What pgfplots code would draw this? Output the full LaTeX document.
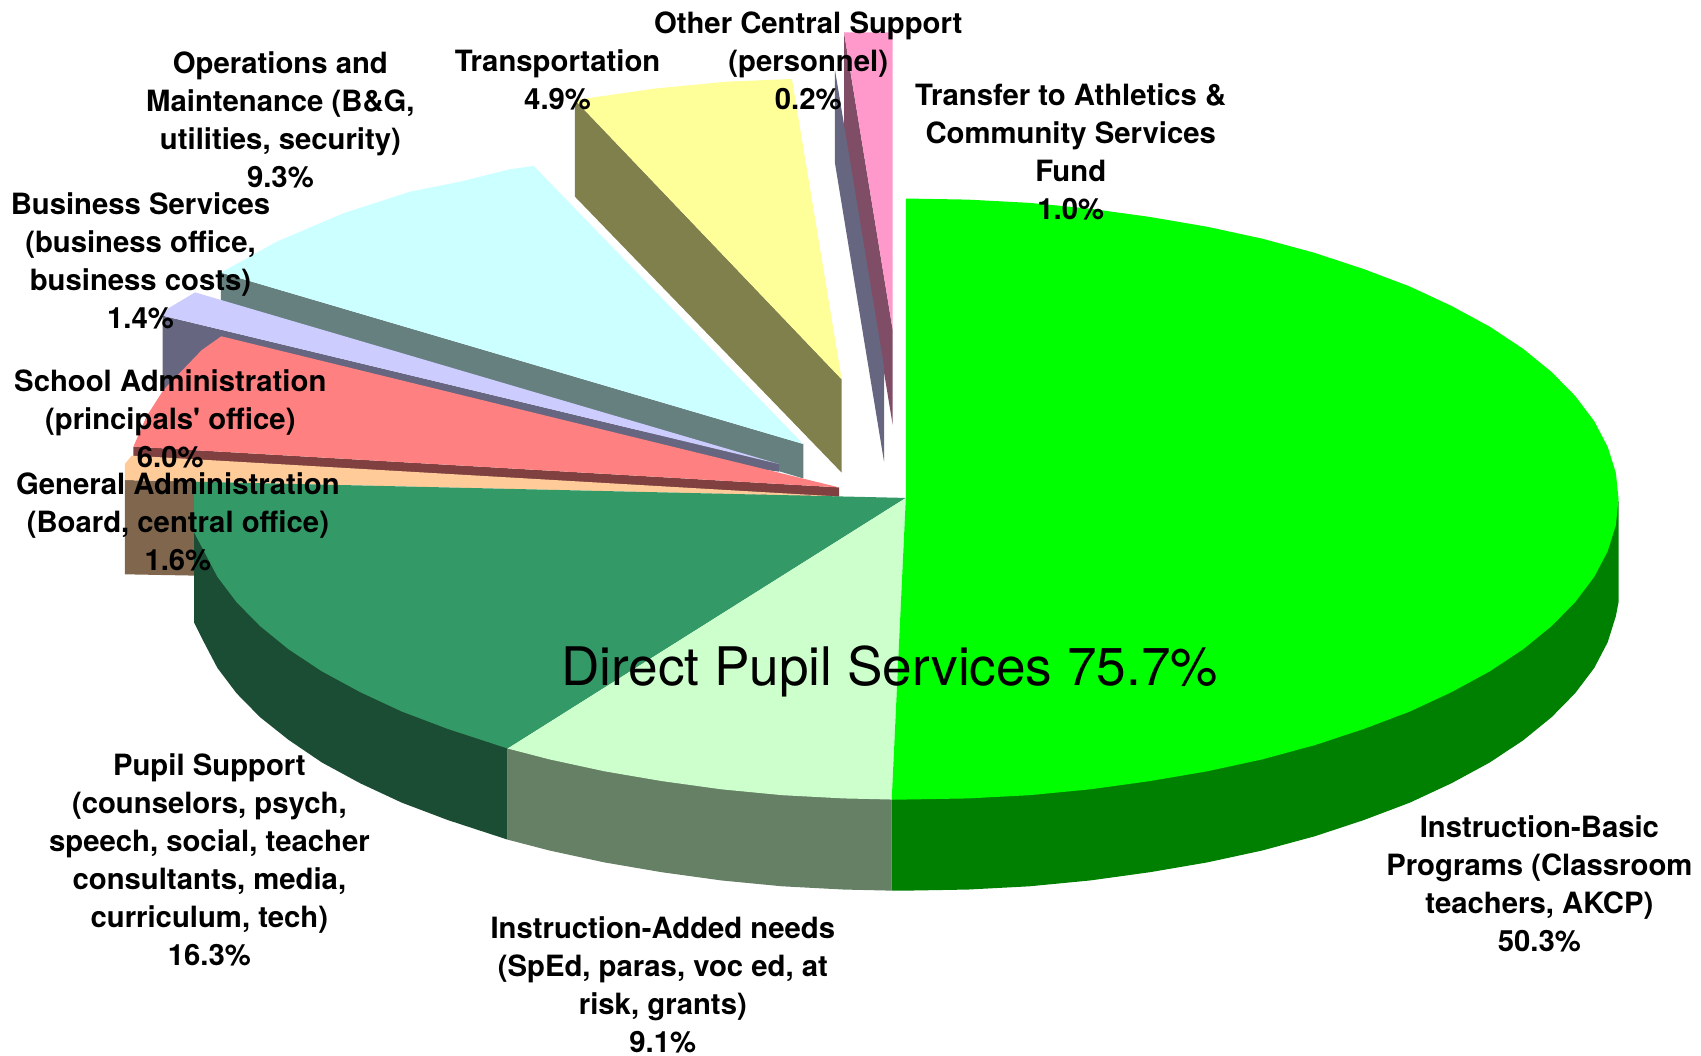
\documentclass[border=0pt]{standalone}
\usepackage{pgfplots}
\pgfplotsset{compat=1.18}
\usepackage{fontspec}
\newfontfamily\hv{TeX Gyre Heros}
\definecolor{gT}{HTML}{00FF00}\definecolor{gW}{HTML}{008000}
\definecolor{lT}{HTML}{CCFFCC}\definecolor{lW}{HTML}{668066}
\definecolor{sT}{HTML}{339966}\definecolor{sW}{HTML}{1A4D33}
\definecolor{oT}{HTML}{FFCC99}\definecolor{oW}{HTML}{80664D}
\definecolor{rT}{HTML}{FF8080}\definecolor{rW}{HTML}{804040}
\definecolor{pT}{HTML}{CCCCFF}\definecolor{pW}{HTML}{666680}
\definecolor{cT}{HTML}{CCFFFF}\definecolor{cW}{HTML}{668080}
\definecolor{yT}{HTML}{FFFF99}\definecolor{yW}{HTML}{80804D}
\definecolor{kT}{HTML}{FF99CC}\definecolor{kW}{HTML}{804D66}
\tikzset{lab/.style={align=center,font=\hv\fontsize{27}{35}\selectfont\bfseries,text=black,inner sep=0pt}}
\begin{document}
\begin{tikzpicture}
\begin{axis}[name=ax,scale only axis,width=1568pt,height=973pt,xmin=0,xmax=1568,ymin=0,ymax=973,y dir=reverse,
  hide axis,clip=false,no markers]
% Transfer to Athletics
\addplot[fill=kW,draw=none] coordinates {(778,29.8)(822.9,304.2)(822.9,391.8)(778,120)};
\addplot[fill=kT,draw=none] coordinates {(778,29.8)(822.9,29.8)(822.9,304.2)};
% Other Central Support
\addplot[fill=pW,draw=none] coordinates {(769.7,64.5)(814.9,338)(814.9,425.6)(769.7,150.6)};
% Transportation
\addplot[fill=yW,draw=none] coordinates {(530,92.2)(775.9,349.7)(775.9,435.7)(530,181.3)};
\addplot[fill=yT,draw=none] coordinates {(530,92.2)(605,81.5)(670,75.3)(730,72.8)(775.9,349.7)};
% Operations
\addplot[fill=cW,draw=none] coordinates {(203.7,251.3)(740.5,409.3)(740.5,441)(203.7,283)};
\addplot[fill=cT,draw=none] coordinates {(203.7,251.3)(255,222.8)(316.5,196.6)(378,176.7)(424,167.5)(470,156)(492,153)(740.5,409.3)};
% Business
\addplot[fill=pW,draw=none] coordinates {(150,291)(718,427.7)(718,434.8)(150,360)};
\addplot[fill=pT,draw=none] coordinates {(179.8,269.5)(155.2,284.2)(150,291)(718,427.7)};
% School admin
\addplot[fill=rW,draw=none] coordinates {(123,411.7)(773.5,449.3)(773.5,457.8)(123,440)};
\addplot[fill=rT,draw=none] coordinates {(204,310)(186,322.7)(150.6,359.5)(135,384)(123,411.7)(773.5,449.3)};
% General admin
\addplot[fill=oW,draw=none] coordinates {(115,442.5)(179,444)(179,530.6)(115,529.4)};
\addplot[fill=oT,draw=none] coordinates {(121.4,420)(115,427.8)(115,442.5)(179,444)(770,457.5)};
% walls of the main pie
\addplot[fill=sW,draw=none] coordinates {(179,444)(179,574)(188,592)(200.4,615.7)(218,639)(239.6,661)(266,682)(296.8,702.9)(332,722)(370.4,739.9)(413,756)(468,774)(468,690)};
\addplot[fill=lW,draw=none] coordinates {(468,690)(468,774)(506.5,784)(557.3,795)(610,804)(665,811.6)(721,817)(778,820)(822,821)(822,737)};
\addplot[fill=gW,draw=none] coordinates {(1492,462)(1492,555)(1489.5,568)(1482,592)(1469.6,615.7)(1452,639)(1430.4,661)(1404,682.5)(1373.2,702.9)(1338,722)(1299.6,739.9)(1257,756)(1211.9,770.9)(1163.5,784)(1112.7,795)(1060,804)(1005,811.6)(949,817)(892,820)(835,821)(822,821)(822,737)};
% Pupil support
\addplot[fill=sT,draw=none] coordinates {(835,459)(179,444)(179,491)(188,508)(200.4,531.7)(218,555)(239.6,577)(266,598.5)(296.8,618.9)(332,638)(370.4,655.9)(413,672)(468,690)};
% Instruction-Added needs
\addplot[fill=lT,draw=none] coordinates {(835,459)(468,690)(506.5,700)(557.3,711)(610,720)(665,727.6)(721,733)(778,736)(822,737)};
% Instruction-Basic
\addplot[fill=gT,draw=none] coordinates {(835,459)(835,183)(892,184)(949,187)(1005,192.4)(1060,200)(1112.7,209)(1163.5,220)(1211.9,233.1)(1257,248)(1299.6,264.1)(1338,282)(1373.2,301.1)(1404,321.5)(1430.4,343)(1452,365)(1469.6,388.3)(1482,412)(1489.5,435.9)(1492,460)(1489.5,484.1)(1482,508)(1469.6,531.7)(1452,555)(1430.4,577)(1404,598.5)(1373.2,618.9)(1338,638)(1299.6,655.9)(1257,672)(1211.9,686.9)(1163.5,700)(1112.7,711)(1060,720)(1005,727.6)(949,733)(892,736)(835,737)(822,737)};
% labels
\node[lab] at (axis cs:258.5,110.5) {Operations and\\Maintenance (B\&G,\\utilities, security)\\9.3\%};
\node[lab] at (axis cs:514,73.5) {Transportation\\4.9\%};
\node[lab] at (axis cs:745,56) {Other Central Support\\(personnel)\\0.2\%};
\node[lab] at (axis cs:987,140) {Transfer to Athletics \&\\Community Services\\Fund\\1.0\%};
\node[lab] at (axis cs:129.5,240.5) {Business Services\\(business office,\\business costs)\\1.4\%};
\node[lab] at (axis cs:157,386) {School Administration\\(principals' office)\\6.0\%};
\node[lab] at (axis cs:164,481) {General Administration\\(Board, central office)\\1.6\%};
\node[lab] at (axis cs:193,792.5) {Pupil Support\\(counselors, psych,\\speech, social, teacher\\consultants, media,\\curriculum, tech)\\16.3\%};
\node[lab] at (axis cs:611,907.5) {Instruction-Added needs\\(SpEd, paras, voc ed, at\\risk, grants)\\9.1\%};
\node[lab] at (axis cs:1419,814.5) {Instruction-Basic\\Programs (Classroom\\teachers, AKCP)\\50.3\%};
\node[inner sep=0pt,font=\hv\fontsize{49}{56}\selectfont] at (axis cs:820,619) {Direct Pupil Services 75.7\%};
\end{axis}
\pgfresetboundingbox
\path[use as bounding box] (ax.south west) rectangle (ax.north east);
\end{tikzpicture}
\end{document}
